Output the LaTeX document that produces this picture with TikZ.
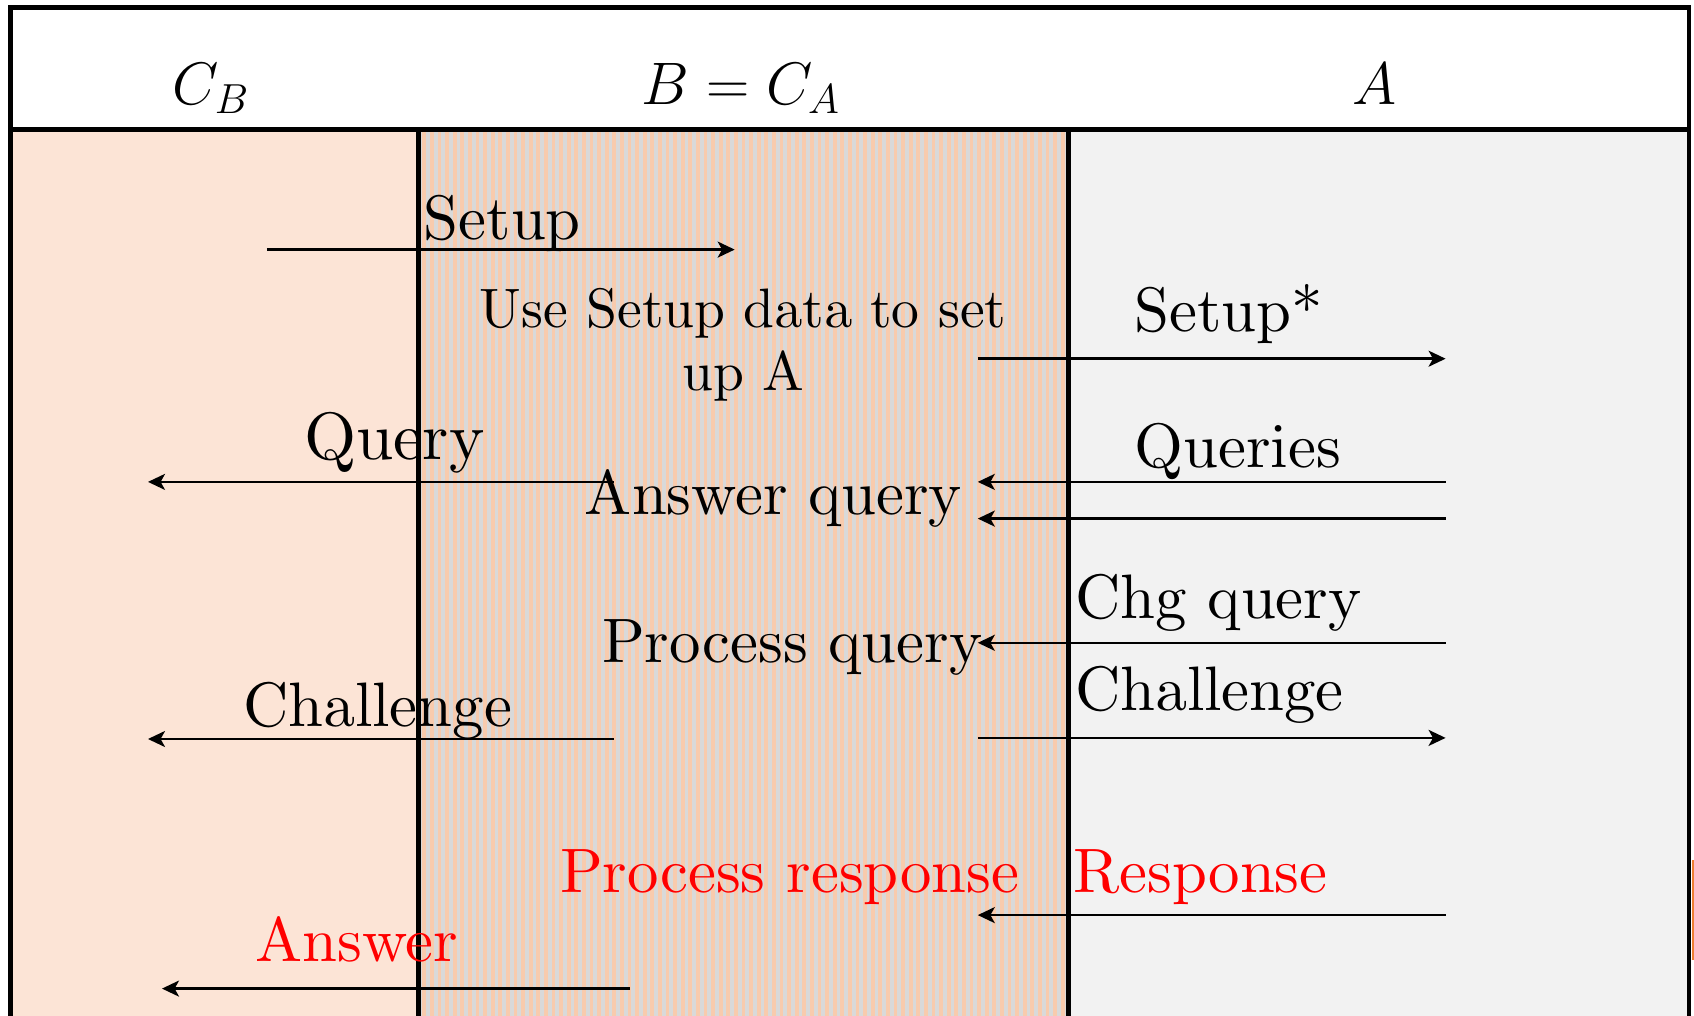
\RequirePackage{fix-cm}
\documentclass[tikz,border=0pt]{standalone}
\usetikzlibrary{arrows.meta}
\DeclareFontFamily{OT1}{cmrten}{}
\DeclareFontShape{OT1}{cmrten}{m}{n}{<-> cmr10}{}
\newcommand{\lblsize}[2]{\fontencoding{OT1}\fontfamily{cmrten}\fontseries{m}\fontshape{n}\fontsize{#1}{#2}\selectfont}
\definecolor{leftfill}{HTML}{FCE4D6}
\definecolor{rightfill}{HTML}{F2F2F2}
\definecolor{stripeA}{HTML}{F8CBAD}
\definecolor{stripeB}{HTML}{D9D9D9}
\definecolor{artif}{HTML}{ED7D31}
\begin{document}
\begin{tikzpicture}[x=0.5pt,y=-0.5pt,
  border/.style={line width=2.4pt, line join=miter},
  hdr/.style={inner sep=0pt, anchor=base, font=\fontsize{30}{36}\selectfont},
  lbl/.style={inner sep=0pt, anchor=base west, font=\lblsize{31.4}{37}},
  biglbl/.style={inner sep=0pt, anchor=base west, font=\lblsize{33.5}{40}},
  redlbl/.style={lbl, text=red},
  msg/.style={line width=1.2pt, -{Stealth[length=8.5pt,width=8pt,inset=2.2pt]}}]
\useasboundingbox (0,0) rectangle (1694,1016);
\fill[white] (0,0) rectangle (1694,1016);
% lanes
\fill[leftfill] (10,129) rectangle (418,1016);
\fill[stripeB] (418,129) rectangle (1069,1016);
\begin{scope}
  \clip (418,129) rectangle (1069,1016);
  \foreach \i in {0,...,86} \fill[stripeA] ({422.3+7.6*\i},129) rectangle ({426.1+7.6*\i},1016);
\end{scope}
\fill[rightfill] (1069,129) rectangle (1689,1016);
\fill[artif] (1691.5,860) rectangle (1694,960);
% frame
\draw[border] (10.5,1016) -- (10.5,7.5) -- (1689,7.5) -- (1689,1016);
\draw[border] (10.5,129.5) -- (1689,129.5);
\draw[border] (418.5,129.5) -- (418.5,1016);
\draw[border] (1068.5,129.5) -- (1068.5,1016);
% header
\node[hdr] (cb) at (211,105) {$C_B$};
\node[hdr] (bca) at (741,105) {$B = C_A$};
\node[hdr] (aa) at (1375,105) {$A$};
% labels
\node[lbl] (lsetup) at (423.5,240) {Setup};
\node[inner sep=0pt, anchor=base, align=center, font=\lblsize{27.8}{31.8}] (luse) at (743.3,391) {Use Setup data to set\\up A};
\node[lbl] (lsetstar) at (1134.4,331.7) {Setup*};
\node[biglbl] (lquery) at (303.6,459) {Query};
\node[lbl] (lqueries) at (1134.4,467.8) {Queries};
\node[lbl] (lanswerq) at (584.5,514.3) {Answer query};
\node[lbl] (lchg) at (1075,618) {Chg query};
\node[lbl] (lprocq) at (601.8,662.3) {Process query};
\node[lbl] (lchl) at (243.1,726) {Challenge};
\node[lbl] (lchr) at (1075,710.9) {Challenge};
\node[redlbl] (lprocr) at (559.6,892.4) {Process response};
\node[redlbl] (lresp) at (1072.8,892.4) {Response};
\node[redlbl] (lans) at (255,961.6) {Answer};
% message end points
\coordinate (setupS) at (266.9,249.6);
\coordinate (setupE) at (734.7,249.6);
\coordinate (setstarS) at (977.8,358.7);
\coordinate (setstarE) at (1445.6,358.7);
\coordinate (queryS) at (613.7,481.9);
\coordinate (queryE) at (148,481.9);
\coordinate (qaS) at (1445.6,481.9);
\coordinate (qaE) at (977.8,481.9);
\coordinate (qbS) at (1445.6,518.6);
\coordinate (qbE) at (977.8,518.6);
\coordinate (chgS) at (1445.6,642.8);
\coordinate (chgE) at (977.8,642.8);
\coordinate (chlS) at (613.7,739);
\coordinate (chlE) at (148,739);
\coordinate (chrS) at (977.8,737.9);
\coordinate (chrE) at (1445.6,737.9);
\coordinate (respS) at (1445.6,915.1);
\coordinate (respE) at (977.8,915.1);
\coordinate (ansS) at (629.9,988.6);
\coordinate (ansE) at (162,988.6);
% messages
\draw[msg] (setupS) -- (setupE);
\draw[msg] (setstarS) -- (setstarE);
\draw[msg] (queryS) -- (queryE);
\draw[msg] (qaS) -- (qaE);
\draw[msg] (qbS) -- (qbE);
\draw[msg] (chgS) -- (chgE);
\draw[msg] (chlS) -- (chlE);
\draw[msg] (chrS) -- (chrE);
\draw[msg] (respS) -- (respE);
\draw[msg] (ansS) -- (ansE);
\end{tikzpicture}
\end{document}
